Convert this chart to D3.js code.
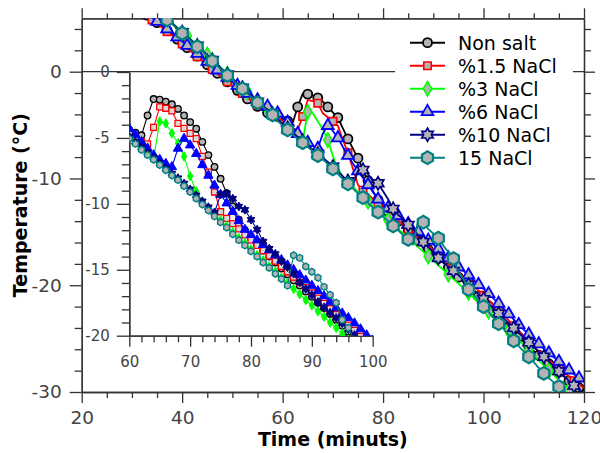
<!DOCTYPE html>
<html><head><meta charset="utf-8">
<script src="https://cdn.jsdelivr.net/npm/d3@7"></script>
<style>body{margin:0;background:#fff}svg{display:block}text{font-family:"DejaVu Sans",sans-serif}</style>
</head><body><svg id="c" width="600" height="453"></svg>
<script>
// ---------- data ----------
const times=[33,34,35,36,37,38,39,40,41,42,43,44,45,46,47,48,49,50,51,52,53,54,55,56,57,58,59,60,61,62,63,64,65,66,67,68,69,70,71,72,73,74,75,76,77,78,79,80,81,82,83,84,85,86,87,88,89,90,91,92,93,94,95,96,97,98,99,100,101,102,103,104,105,106,107,108,109,110,111,112,113,114,115,116,117,118,119,120];
const seriesNames=["Non salt","%1.5 NaCl","%3 NaCl","%6 NaCl","%10 NaCl","15 NaCl"];
const nonSalt=[5.3,4.95,4.6,4.2,3.85,3.45,3.05,2.65,2.25,1.85,
1.45,1.05,0.65,0.25,-0.15,-0.55,-0.95,-1.35,-1.75,-2.15,
-2.55,-2.9,-3.25,-3.55,-3.85,-4.0,-4.2,-4.4,-4.6,-4.8,
-3.3,-2.05,-2.1,-2.25,-2.45,-2.8,-3.3,-3.8,-4.3,-5.3,
-6.3,-7.2,-8.1,-9.2,-10.2,-11.2,-12.0,-12.6,-13.1,-13.55,
-14.0,-14.45,-14.9,-15.35,-15.8,-16.2,-16.65,-17.05,-17.5,-17.9,
-18.35,-18.8,-19.25,-19.7,-20.15,-20.6,-21.05,-21.5,-21.95,-22.45,
-22.9,-23.4,-23.9,-24.4,-24.85,-25.3,-25.75,-26.15,-26.55,-26.95,
-27.35,-27.75,-28.15,-28.55,-28.95,-29.3,-29.6,-29.9];
const nacl1_5=[5.2,4.85,4.5,4.1,3.75,3.4,3.0,2.6,2.2,1.8,
1.4,1.0,0.6,0.2,-0.2,-0.55,-0.95,-1.3,-1.7,-2.05,
-2.45,-2.8,-3.1,-3.4,-3.7,-4.0,-4.3,-4.6,-4.95,-5.3,
-5.45,-4.2,-2.65,-2.75,-2.95,-3.9,-4.27,-4.65,-5.05,-6.4,
-7.6,-9.1,-10.6,-11.1,-11.5,-11.9,-12.35,-12.75,-13.15,-13.55,
-13.95,-14.35,-14.75,-15.15,-15.55,-15.95,-16.35,-16.75,-17.15,-17.55,
-17.95,-18.4,-18.8,-19.2,-19.6,-20.05,-20.5,-20.95,-21.4,-21.85,
-22.3,-22.8,-23.3,-23.8,-24.3,-24.8,-25.3,-25.75,-26.2,-26.6,
-27.0,-27.4,-27.8,-28.15,-28.55,-28.95,-29.3,-29.6];
const nacl3=[6.65,6.25,5.85,5.4,5.0,4.6,4.15,3.75,3.35,2.9,
2.5,2.05,1.6,1.15,0.7,0.25,-0.2,-0.6,-1.05,-1.45,
-1.9,-2.3,-2.75,-3.15,-3.5,-3.9,-4.45,-4.9,-5.3,-5.75,
-6.15,-6.55,-3.75,-3.9,-4.65,-5.4,-6.4,-7.9,-9.05,-9.85,
-10.35,-10.8,-11.25,-11.7,-12.15,-12.6,-13.0,-13.45,-13.9,-14.3,
-14.75,-15.15,-15.6,-16.0,-16.45,-16.85,-17.3,-17.7,-18.15,-18.55,
-19.0,-19.4,-19.85,-20.3,-20.7,-21.15,-21.6,-22.0,-22.45,-22.9,
-23.35,-23.8,-24.25,-24.7,-25.15,-25.6,-26.05,-26.55,-27.05,-27.5,
-28.0,-28.45,-28.9,-29.35,-29.8,-30.2,-30.6,-31.0];
const nacl6=[5.4,5.05,4.7,4.35,4.0,3.65,3.25,2.85,2.45,2.05,
1.7,1.35,0.95,0.55,0.15,-0.2,-0.55,-0.95,-1.3,-1.65,
-2.05,-2.35,-2.65,-2.95,-3.25,-3.55,-3.9,-4.3,-4.75,-5.3,
-5.8,-6.3,-6.65,-6.95,-7.2,-5.8,-5.05,-5.55,-6.2,-7.05,
-7.85,-8.6,-9.3,-9.95,-10.6,-11.3,-11.95,-12.35,-12.75,-13.1,
-13.5,-13.9,-14.25,-14.65,-15.0,-15.4,-15.8,-16.2,-16.6,-17.0,
-17.45,-17.9,-18.3,-18.65,-19.05,-19.5,-19.95,-20.35,-20.8,-21.25,
-21.7,-22.2,-22.7,-23.2,-23.7,-24.15,-24.6,-25.05,-25.5,-25.95,
-26.35,-26.75,-27.15,-27.55,-27.95,-28.35,-28.7,-29.05];
const nacl10=[6.6,6.2,5.8,5.35,4.95,4.55,4.1,3.7,3.3,2.85,
2.45,2.0,1.55,1.1,0.65,0.2,-0.25,-0.65,-1.1,-1.5,
-1.95,-2.35,-2.8,-3.2,-3.55,-3.95,-4.45,-4.9,-5.3,-5.7,
-6.1,-6.5,-6.9,-7.3,-7.7,-8.05,-8.45,-8.9,-9.35,-9.8,
-10.25,-10.65,-9.3,-9.2,-9.6,-10.2,-10.45,-11.2,-11.95,-12.85,
-13.4,-13.8,-14.35,-14.8,-15.3,-15.95,-16.45,-16.9,-17.45,-17.85,
-18.25,-18.65,-19.05,-19.5,-19.95,-20.4,-20.85,-21.3,-21.75,-22.2,
-22.65,-23.1,-23.55,-24.0,-24.45,-24.9,-25.35,-25.8,-26.25,-26.7,
-27.15,-27.6,-28.05,-28.5,-28.95,-29.4,-29.8,-30.2];
const nacl15=[6.5,6.1,5.7,5.25,4.85,4.45,4.0,3.6,3.2,2.75,
2.35,1.9,1.45,1.0,0.55,0.1,-0.35,-0.75,-1.2,-1.6,
-2.05,-2.45,-2.9,-3.3,-3.65,-4.05,-4.6,-5.05,-5.45,-5.9,
-6.3,-6.65,-7.05,-7.45,-7.85,-8.2,-8.65,-9.1,-9.6,-10.05,
-10.5,-10.95,-11.4,-11.8,-12.3,-12.75,-13.15,-13.6,-14.0,-14.45,
-14.85,-15.3,-15.7,-16.2,-13.9,-14.1,-14.75,-15.15,-15.6,-16.3,
-16.9,-17.5,-18.8,-19.4,-20.4,-20.9,-21.4,-22.0,-22.5,-23.05,
-23.6,-24.1,-24.65,-25.2,-25.7,-26.2,-26.7,-27.2,-27.75,-28.25,
-28.7,-29.1,-29.5,-29.95,-30.4,-30.8,-31.2,-31.6];
const seriesValues=[nonSalt,nacl1_5,nacl3,nacl6,nacl10,nacl15];
const xTicksMain=[20,40,60,80,100,120];
const yTicksMain=[-30,-20,-10,0];
const xTicksInset=[60,70,80,90,100];
const yTicksInset=[-20,-15,-10,-5,0];

// ---------- styles ----------
const hexagon={draw(ctx,size){const r=Math.sqrt(size/2.598);for(let i=0;i<6;i++){const a=Math.PI/6+i*Math.PI/3;const px=r*Math.cos(a),py=r*Math.sin(a);if(i)ctx.lineTo(px,py);else ctx.moveTo(px,py);}ctx.closePath();}};
const hexagram={draw(ctx,size){const R=Math.sqrt(size)*0.8,r=R*0.577;for(let i=0;i<12;i++){const a=-Math.PI/2+i*Math.PI/6;const rr=i%2?r:R;const px=rr*Math.cos(a),py=rr*Math.sin(a);if(i)ctx.lineTo(px,py);else ctx.moveTo(px,py);}ctx.closePath();}};
const GREY="#b3b3b3";
const styles=[
 {color:"#000000",sym:d3.symbolCircle,mSize:64,iSize:34,every:2,off:1,iFill:GREY,mSw:1.8,iSw:1.3},
 {color:"#ff0000",sym:d3.symbolSquare,mSize:56,iSize:36,every:3,off:1,iFill:"#d9d9d9",mSw:1.6,iSw:1.3},
 {color:"#00ff00",sym:d3.symbolDiamond,mSize:60,iSize:26,every:4,off:1,iFill:"#00ff00",mSw:1.6,iSw:1},
 {color:"#0000ff",sym:d3.symbolTriangle,mSize:60,iSize:38,every:2,off:1,iFill:"#0000ff",mSw:1.8,iSw:1},
 {color:"#000080",sym:hexagram,mSize:70,iSize:30,every:3,off:1,iFill:"#000080",mSw:1.6,iSw:1},
 {color:"#008080",sym:hexagon,mSize:105,iSize:30,every:3,off:1,iFill:GREY,mSw:2.2,iSw:1.4}
];

// ---------- scales ----------
const svg=d3.select("#c");
const x=d3.scaleLinear().domain([20,120]).range([81.7,584]);
const y=d3.scaleLinear().domain([-30,5]).range([392,18.3]);
const xi=d3.scaleLinear().domain([60,100]).range([129.3,372.7]);
const yi=d3.scaleLinear().domain([-20,0]).range([335.7,72]);

const defs=svg.append("defs");
defs.append("clipPath").attr("id","clipMain").append("rect")
 .attr("x",x(20)).attr("y",y(5)).attr("width",x(120)-x(20)).attr("height",y(-30)-y(5));
defs.append("clipPath").attr("id","clipInset").append("rect")
 .attr("x",xi(60)).attr("y",yi(0)).attr("width",xi(100)-xi(60)).attr("height",yi(-20)-yi(0));

const noLabel=()=>"";
const intLabel=d=>String(d);
function styleAxis(g,fs){
 g.selectAll("path.domain").attr("stroke","#333").attr("stroke-width",1.3);
 g.selectAll(".tick line").attr("stroke","#333").attr("stroke-width",1.3);
 g.selectAll(".tick text").attr("fill","#444").style("font-size",fs+"px").style("font-family","DejaVu Sans");
}
const minorMainX=d3.range(20,121,5).filter(v=>v%20!==0);
const minorMainY=d3.range(-30,5,2).filter(v=>v%10!==0);
const minorInX=d3.range(60,101,2).filter(v=>v%10!==0);
const minorInY=d3.range(-20,1,1).filter(v=>v%5!==0);

// main axes
const gBot=svg.append("g").attr("transform",`translate(0,${y(-30)})`);
gBot.append("g").call(d3.axisBottom(x).tickValues(minorMainX).tickSize(6).tickFormat(noLabel).tickSizeOuter(0));
gBot.append("g").call(d3.axisBottom(x).tickValues(xTicksMain).tickSize(11).tickPadding(8).tickSizeOuter(0).tickFormat(intLabel));
styleAxis(gBot,18.5);
const gTop=svg.append("g").attr("transform",`translate(0,${y(5)})`);
gTop.append("g").call(d3.axisTop(x).tickValues(minorMainX).tickSize(5).tickFormat(noLabel).tickSizeOuter(0));
gTop.append("g").call(d3.axisTop(x).tickValues(xTicksMain).tickSize(10).tickFormat(noLabel).tickSizeOuter(0));
styleAxis(gTop,18.5);
const gLeft=svg.append("g").attr("transform",`translate(${x(20)},0)`);
gLeft.append("g").call(d3.axisLeft(y).tickValues(minorMainY).tickSize(7).tickFormat(noLabel).tickSizeOuter(0));
gLeft.append("g").call(d3.axisLeft(y).tickValues(yTicksMain).tickSize(12).tickPadding(8).tickSizeOuter(0).tickFormat(intLabel));
styleAxis(gLeft,18.5);
const gRight=svg.append("g").attr("transform",`translate(${x(120)},0)`);
gRight.append("g").call(d3.axisRight(y).tickValues(minorMainY).tickSize(7).tickFormat(noLabel).tickSizeOuter(0));
gRight.append("g").call(d3.axisRight(y).tickValues(yTicksMain).tickSize(11).tickFormat(noLabel).tickSizeOuter(0));
styleAxis(gRight,18.5);

// zero line
svg.append("line").attr("x1",x(20)).attr("x2",x(120)).attr("y1",y(0)).attr("y2",y(0))
 .attr("stroke","#333").attr("stroke-width",1.3);

// inset axes
const giBot=svg.append("g").attr("transform",`translate(0,${yi(-20)})`);
giBot.append("g").call(d3.axisBottom(xi).tickValues(minorInX).tickSize(6.5).tickFormat(noLabel).tickSizeOuter(0));
giBot.append("g").call(d3.axisBottom(xi).tickValues(xTicksInset).tickSize(11).tickPadding(10).tickSizeOuter(0).tickFormat(intLabel));
styleAxis(giBot,15);
const giLeft=svg.append("g").attr("transform",`translate(${xi(60)},0)`);
giLeft.append("g").call(d3.axisLeft(yi).tickValues(minorInY).tickSize(7.5).tickFormat(noLabel).tickSizeOuter(0));
giLeft.append("g").call(d3.axisLeft(yi).tickValues(yTicksInset).tickSize(12.5).tickPadding(7).tickSizeOuter(0).tickFormat(intLabel));
styleAxis(giLeft,15);

// series drawing
function drawSeries(clipId,xs,ys,inset){
 const g=svg.append("g").attr("clip-path",`url(#${clipId})`);
 seriesNames.forEach((name,i)=>{
  const st=styles[i];
  const pts=times.map((t,j)=>({t:t,v:seriesValues[i][j]}));
  g.append("path").attr("d",d3.line().x(d=>xs(d.t)).y(d=>ys(d.v))(pts))
   .attr("fill","none").attr("stroke",st.color).attr("stroke-width",inset?1.1:1.8).attr("stroke-linejoin","round");
  const mk=inset?pts.filter(d=>d.t>=59&&d.t<=101):pts.filter(d=>d.t%st.every===st.off);
  g.selectAll(null).data(mk).join("path")
   .attr("transform",d=>`translate(${xs(d.t)},${ys(d.v)})`)
   .attr("d",d3.symbol().type(st.sym).size(inset?st.iSize:st.mSize))
   .attr("fill",inset?st.iFill:GREY)
   .attr("stroke",st.color).attr("stroke-width",inset?st.iSw:st.mSw);
 });
}
drawSeries("clipInset",xi,yi,true);
drawSeries("clipMain",x,y,false);

// axis titles
svg.append("text").attr("x",(x(20)+x(120))/2).attr("y",445.5).attr("text-anchor","middle")
 .style("font-size","19px").style("font-weight","bold").attr("fill","#000").text("Time (minuts)");
svg.append("text").attr("transform",`translate(27,${(y(5)+y(-30))/2}) rotate(-90)`).attr("text-anchor","middle")
 .style("font-size","19px").style("font-weight","bold").attr("fill","#000").text("Temperature (°C)");

// legend
const lg=svg.append("g");
lg.append("rect").attr("x",395).attr("y",27).attr("width",178).attr("height",146).attr("fill","#fff");
seriesNames.forEach((name,i)=>{
 const st=styles[i];const cy=42.7+i*23;
 lg.append("line").attr("x1",410).attr("x2",445).attr("y1",cy).attr("y2",cy).attr("stroke",st.color).attr("stroke-width",2);
 lg.append("path").attr("transform",`translate(427.5,${cy})`).attr("d",d3.symbol().type(st.sym).size(st.mSize))
  .attr("fill",GREY).attr("stroke",st.color).attr("stroke-width",st.mSw);
 lg.append("text").attr("x",458).attr("y",cy+7).style("font-size","19px").attr("fill","#000").text(name);
});
</script></body></html>
